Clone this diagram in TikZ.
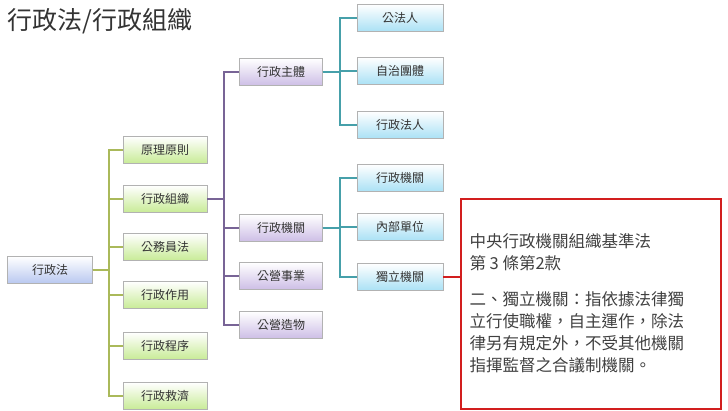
\documentclass[tikz,border=0pt]{standalone}
\usepackage{fontspec}
\setmainfont{Noto Sans CJK TC}
\usetikzlibrary{positioning}
\definecolor{gbus}{RGB}{170,185,90}
\definecolor{pbus}{RGB}{120,100,150}
\definecolor{bbus}{RGB}{70,160,170}
\definecolor{bred}{RGB}{210,30,30}
\definecolor{gfill}{RGB}{200,235,150}
\definecolor{pfill}{RGB}{205,190,230}
\definecolor{bfill}{RGB}{170,225,245}
\definecolor{rfill}{RGB}{185,200,240}
\begin{document}
\begin{tikzpicture}[x=1pt, y=-1pt, font=\fontsize{12}{14}\selectfont,
  box/.style={draw=black!30, top color=white, bottom color=#1, minimum height=27pt, inner sep=2pt, text=black!80},
  root/.style={box=rfill, minimum width=85pt},
  lvla/.style={box=gfill, minimum width=84pt},
  lvlb/.style={box=pfill, minimum width=83pt},
  lvlc/.style={box=bfill, minimum width=86pt},
  link/.style={line width=2pt}]
  \useasboundingbox (0,0) rectangle (728,410);
  \node[anchor=west, font=\fontsize{25}{28}\selectfont, text=black!80] (title) at (4,21) {行政法/行政組織};
  % level 0
  \node[root] (law) at (50,270) {行政法};
  % level 1
  \node[lvla] (p1) at (165,150) {原理原則};
  \node[lvla] (p2) at (165,199) {行政組織};
  \node[lvla] (p3) at (165,247) {公務員法};
  \node[lvla] (p4) at (165,295) {行政作用};
  \node[lvla] (p5) at (165,346) {行政程序};
  \node[lvla] (p6) at (165,396) {行政救濟};
  % level 2
  \node[lvlb] (o1) at (281,72) {行政主體};
  \node[lvlb] (o2) at (281,228) {行政機關};
  \node[lvlb] (o3) at (281,276) {公營事業};
  \node[lvlb] (o4) at (281,325) {公營造物};
  % level 3
  \node[lvlc] (s1) at (400,18) {公法人};
  \node[lvlc] (s2) at (400,71) {自治團體};
  \node[lvlc] (s3) at (400,125) {行政法人};
  \node[lvlc] (a1) at (400,178) {行政機關};
  \node[lvlc] (a2) at (400,227) {內部單位};
  \node[lvlc] (a3) at (400,277) {獨立機關};
  % note
  \node[draw=bred, line width=1.5pt, minimum width=260pt, minimum height=210pt, anchor=north west] (note) at (460,198) {};
  \node[anchor=north west, align=left, font=\fontsize{16.5}{22}\selectfont, text=black!75] (notetext) at (466,230)
    {中央行政機關組織基準法\\第 3 條第2款\\[14pt]二、獨立機關：指依據法律獨\\立行使職權，自主運作，除法\\律另有規定外，不受其他機關\\指揮監督之合議制機關。};
  % connectors
  \foreach \t in {p1,p2,p3,p4,p5,p6}
    \draw[link, gbus] (law.east) -| (109,0 |- \t.west) -- (\t.west);
  \foreach \t in {o1,o2,o3,o4}
    \draw[link, pbus] (p2.east) -| (224,0 |- \t.west) -- (\t.west);
  \foreach \t in {s1,s2,s3}
    \draw[link, bbus] (o1.east) -| (340,0 |- \t.west) -- (\t.west);
  \foreach \t in {a1,a2,a3}
    \draw[link, bbus] (o2.east) -| (340,0 |- \t.west) -- (\t.west);
  \draw[link, bred] (a3.east) -- (note.west |- a3.east);
\end{tikzpicture}
\end{document}
